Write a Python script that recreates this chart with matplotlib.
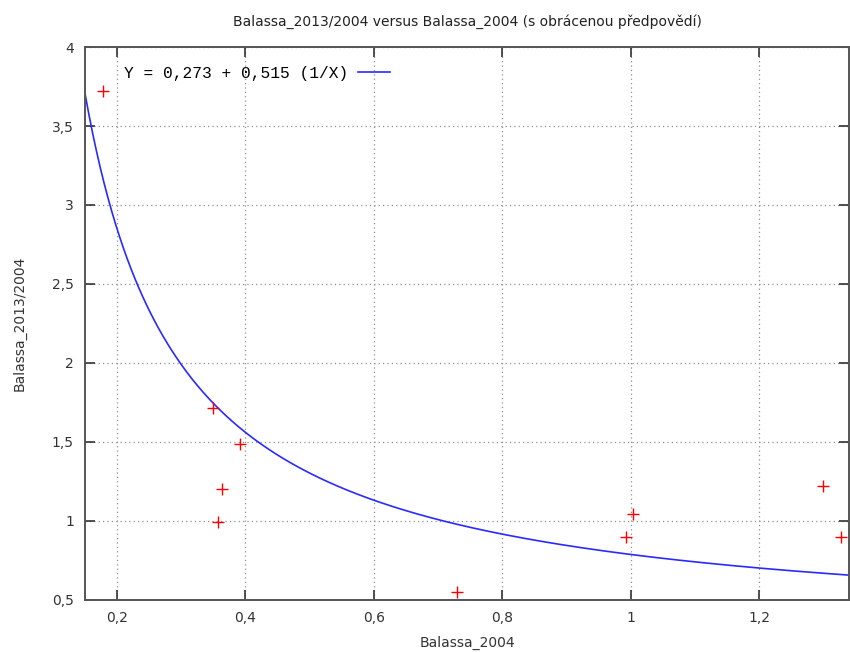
import numpy as np
import matplotlib.pyplot as plt
from matplotlib.ticker import FuncFormatter

# observed data (Balassa_2004, Balassa_2013/2004)
balassa_2004 = [0.178, 0.350, 0.392, 0.364, 0.357, 0.730, 0.993, 1.003, 1.299, 1.328]
balassa_ratio = [3.72, 1.715, 1.487, 1.203, 0.994, 0.551, 0.899, 1.044, 1.222, 0.899]

# fitted inverse model: Y = a + b (1/X)
fit_a = 0.273
fit_b = 0.515

x_range = (0.15, 1.34)
y_range = (0.5, 4.0)
x_ticks = [0.2, 0.4, 0.6, 0.8, 1.0, 1.2]
y_ticks = [0.5, 1.0, 1.5, 2.0, 2.5, 3.0, 3.5, 4.0]


def comma(v, pos=None):
    s = ('%g' % v)
    return s.replace('.', ',')


fig = plt.figure(figsize=(8.5, 6.52), dpi=100)
ax = fig.add_axes([0.1, 0.0798, 0.8988, 0.8481])

xs = np.linspace(x_range[0], x_range[1], 400)
ax.plot(xs, fit_a + fit_b / xs, color='#2a2aff', lw=1.2,
        label='Y = 0,273 + 0,515 (1/X)')
ax.plot(balassa_2004, balassa_ratio, '+', color='#ff0000',
        markersize=8, mew=1.0, linestyle='none')

ax.set_xlim(*x_range)
ax.set_ylim(*y_range)
ax.set_xticks(x_ticks)
ax.set_yticks(y_ticks)
ax.xaxis.set_major_formatter(FuncFormatter(comma))
ax.yaxis.set_major_formatter(FuncFormatter(comma))

ax.grid(True, color='#909090', linestyle=(0, (1, 2.5)), linewidth=0.9)
ax.tick_params(direction='in', length=7, width=1.2, color='#333333',
               top=True, right=True, labelsize=10, labelcolor='#333333', pad=8)
for s in ax.spines.values():
    s.set_color('#555555')
    s.set_linewidth(1.4)

ax.set_xlabel('Balassa_2004', fontsize=10, color='#333333', labelpad=8)
ax.set_ylabel('Balassa_2013/2004', fontsize=10, color='#333333', labelpad=18)
ax.set_title('Balassa_2013/2004 versus Balassa_2004 (s obrácenou předpovědí)',
             fontsize=10, color='#222222', pad=15)

leg = ax.legend(loc='upper left', bbox_to_anchor=(0.042, 0.978),
                frameon=False, markerfirst=False, borderaxespad=0,
                handlelength=2.0, handletextpad=0.6,
                prop={'family': 'Liberation Mono', 'size': 11.7})

fig.savefig('out.png', dpi=100)
